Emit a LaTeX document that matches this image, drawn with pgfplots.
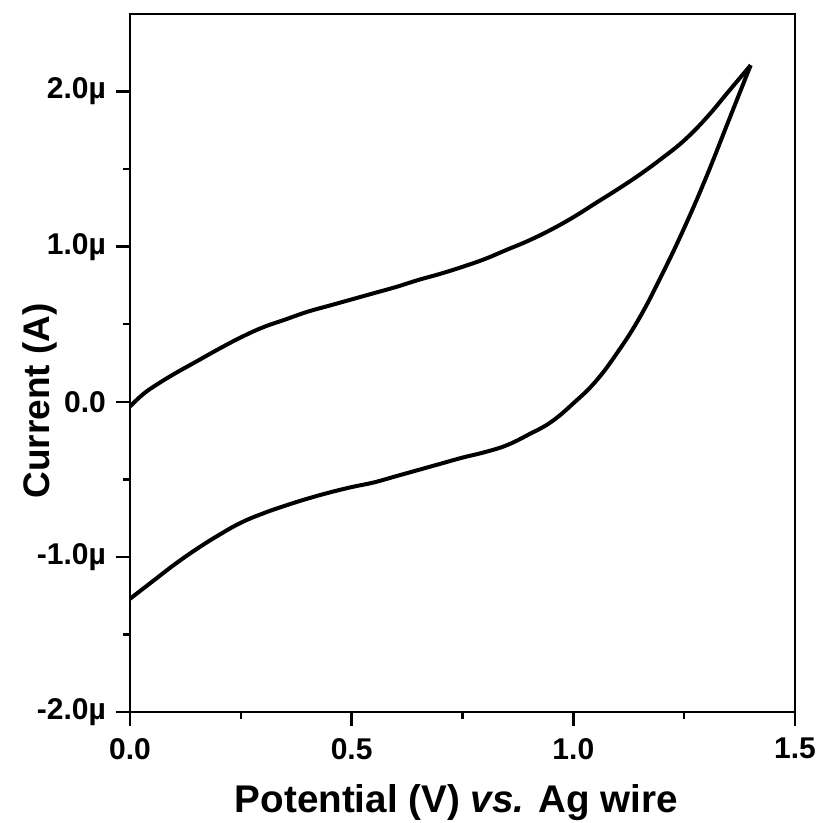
\documentclass[border=0pt]{standalone}
\usepackage{fontspec}
\setmainfont{Liberation Sans}
\usepackage{pgfplots}
\pgfplotsset{compat=1.18}
\begin{document}
\begin{tikzpicture}
\begin{axis}[
 at={(0,0)}, anchor=south west,
 scale only axis, width=332.5pt, height=349pt,
 xmin=0, xmax=1.5, ymin=-2, ymax=2.5,
 xtick={0,0.5,1,1.5}, xticklabels={0.0,0.5,1.0,1.5},
 ytick={-2,-1,0,1,2}, yticklabels={-2.0µ,-1.0µ,0.0,1.0µ,2.0µ},
 minor x tick num=1, minor y tick num=1,
 tick align=outside, tick pos=left,
 major tick length=7pt, minor tick length=3.5pt,
 axis line style={line width=1.2pt},
 every tick/.style={line width=1.2pt, black},
 tick label style={font=\bfseries\fontsize{15}{18}\selectfont},
 xticklabel style={yshift=-2.5pt},
 yticklabel style={xshift=-1.5pt},
 xlabel={Potential (V) \textit{vs.} Ag wire},
 ylabel={Current (A)},
 xlabel style={font=\bfseries\fontsize{19.3}{23}\selectfont, at={(axis description cs:0.5,-0.1447)}, anchor=base, xshift=-3pt},
 ylabel style={font=\bfseries\fontsize{18.5}{22}\selectfont, at={(axis description cs:-0.1203,0.4456)}, anchor=base, rotate=0},
 clip=false,
]
\addplot[black, line width=2pt, smooth, tension=0.7, line join=round] coordinates {
(0.00,-0.03) (0.03,0.05) (0.06,0.11) (0.10,0.18) (0.15,0.26) (0.20,0.34)
(0.25,0.415) (0.30,0.48) (0.35,0.53) (0.40,0.58) (0.45,0.62) (0.50,0.66)
(0.55,0.70) (0.60,0.74) (0.65,0.785) (0.70,0.825) (0.75,0.87) (0.80,0.92)
(0.85,0.98) (0.90,1.04) (0.95,1.11) (1.00,1.19) (1.05,1.28) (1.10,1.37)
(1.15,1.465) (1.20,1.57) (1.25,1.685) (1.30,1.83) (1.35,2.00) (1.40,2.17)
};
\addplot[black, line width=2pt, smooth, tension=0.7, line join=round] coordinates {
(1.40,2.17) (1.35,1.81) (1.30,1.45) (1.25,1.12) (1.20,0.82) (1.15,0.545)
(1.10,0.32) (1.05,0.13) (1.00,-0.01) (0.95,-0.13) (0.90,-0.21) (0.85,-0.28)
(0.80,-0.325) (0.75,-0.36) (0.70,-0.40) (0.65,-0.44) (0.60,-0.48) (0.55,-0.52)
(0.50,-0.55) (0.45,-0.585) (0.40,-0.625) (0.35,-0.67) (0.30,-0.72) (0.25,-0.78)
(0.20,-0.86) (0.15,-0.95) (0.10,-1.05) (0.05,-1.16) (0.00,-1.27)
};
\end{axis}
\pgfresetboundingbox
\path (-65pt,-55.5pt) rectangle (346.5pt,356pt);
\end{tikzpicture}
\end{document}
